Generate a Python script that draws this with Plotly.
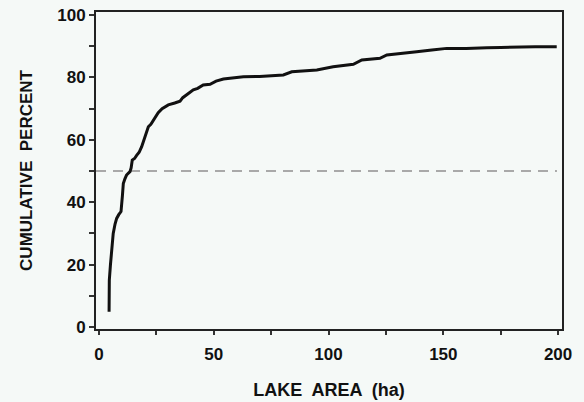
import plotly.graph_objects as go

lake_area = [4.4, 4.5, 5.0, 5.6, 6.2, 7.0, 7.7, 8.6, 9.6, 10.2, 10.6, 11.3, 12.0, 13.5, 14.0,
             14.5, 15.5, 16.4, 17.5, 18.6, 20.0, 21.5, 22.6, 23.7, 25.8, 27.5, 30.2, 33.0,
             35.3, 36.5, 38.2, 41.1, 43.0, 45.4, 48.4, 51.0, 54.2, 58.0, 62.9, 70.0, 75.0,
             80.3, 84.0, 90.0, 94.9, 102.0, 106.0, 110.8, 114.5, 118.0, 122.4, 125.4, 130.0,
             138.4, 145.0, 151.5, 160.0, 167.5, 169.0, 175.0, 183.4, 190.0, 199.4]
cum_percent = [4.9, 15.0, 20.0, 25.0, 30.0, 33.0, 34.8, 36.0, 37.0, 42.0, 46.0, 47.5, 48.7,
               49.8, 51.0, 53.5, 54.0, 55.0, 56.0, 57.8, 61.0, 64.2, 65.0, 66.3, 68.7, 70.0,
               71.2, 71.8, 72.4, 73.5, 74.4, 76.0, 76.5, 77.6, 77.8, 78.8, 79.5, 79.8, 80.2,
               80.3, 80.5, 80.8, 81.8, 82.0, 82.4, 83.4, 83.8, 84.2, 85.6, 85.8, 86.1, 87.2,
               87.5, 88.2, 88.8, 89.3, 89.3, 89.3, 89.5, 89.6, 89.8, 89.8, 89.8]

reference_x = [-1.3, 199.5]
reference_y = [50, 50]

x_tickvals = [0, 25, 50, 75, 100, 125, 150, 175, 200]
x_ticktext = ["0", "", "50", "", "100", "", "150", "", "200"]
y_tickvals = [0, 10, 20, 30, 40, 50, 60, 70, 80, 90, 100]
y_ticktext = ["0", "", "20", "", "40", "", "60", "", "80", "", "100"]

FONT = "Liberation Sans, Arial, Helvetica, sans-serif"
BG = "#f5f9f7"

fig = go.Figure()
fig.add_trace(go.Scatter(x=reference_x, y=reference_y, mode="lines",
                         line=dict(color="#a9a9a9", width=2, dash="10px,7px"),
                         hoverinfo="skip", showlegend=False))
fig.add_trace(go.Scatter(x=lake_area, y=cum_percent, mode="lines",
                         line=dict(color="#111111", width=3),
                         showlegend=False))

fig.update_layout(
    width=584, height=402,
    margin=dict(l=96, r=22, t=12, b=73),
    paper_bgcolor=BG, plot_bgcolor=BG,
    font=dict(family=FONT, color="#111111"),
    xaxis=dict(range=[-1.3, 201.7], tickvals=x_tickvals, ticktext=x_ticktext,
               ticks="outside", ticklen=4, tickwidth=1.5, tickcolor="#333",
               ticklabelstandoff=5, automargin=False,
               showline=True, linecolor="#222", linewidth=2, mirror=True,
               showgrid=False, zeroline=False,
               tickfont=dict(size=17, weight="bold"),
               title=dict(text="LAKE  AREA  (ha)", font=dict(size=18, weight="bold"), standoff=20)),
    yaxis=dict(range=[-0.64, 100.96], tickvals=y_tickvals, ticktext=y_ticktext,
               ticks="outside", ticklen=5, tickwidth=1.5, tickcolor="#333",
               automargin=False,
               showline=True, linecolor="#222", linewidth=2, mirror=True,
               showgrid=False, zeroline=False,
               tickfont=dict(size=17, weight="bold"),
               title=dict(text="CUMULATIVE  PERCENT", font=dict(size=17, weight="bold"), standoff=20)),
)

fig.write_html("out.html", config={"displayModeBar": False},
               post_script="document.body.style.margin='0';document.body.style.background='" + BG + "';")
